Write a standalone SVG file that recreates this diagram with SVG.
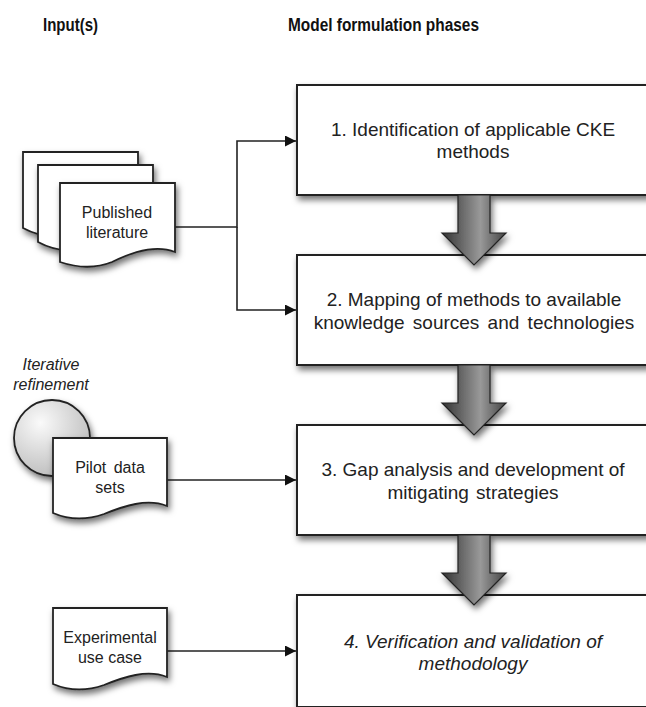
<svg xmlns="http://www.w3.org/2000/svg" width="646" height="707" viewBox="0 0 646 707">
<defs>
<style>
.box{fill:#fff;stroke:#222;stroke-width:2}
.doc{fill:#fff;stroke:#222;stroke-width:1.8}
.t{font-family:"Liberation Sans",Arial,sans-serif;font-size:19px;fill:#222;text-anchor:middle}
.s{font-family:"Liberation Sans",Arial,sans-serif;font-size:16px;fill:#222;text-anchor:middle}
.h{font-family:"Liberation Sans",Arial,sans-serif;font-size:18px;font-weight:bold;fill:#111}
.c{fill:none;stroke:#222;stroke-width:1.6}
.big{fill:url(#ag);stroke:#222;stroke-width:1.2}
</style>
<filter id="sh" x="-20%" y="-20%" width="140%" height="150%">
<feDropShadow dx="2" dy="4" stdDeviation="3" flood-color="#000" flood-opacity="0.55"/>
</filter>
<linearGradient id="ag" x1="0" y1="0" x2="1" y2="0">
<stop offset="0" stop-color="#333"/>
<stop offset="0.6" stop-color="#999"/>
<stop offset="1" stop-color="#444"/>
</linearGradient>
<radialGradient id="cg" cx="0.35" cy="0.3" r="0.8">
<stop offset="0" stop-color="#fafafa"/>
<stop offset="1" stop-color="#b8b8b8"/>
</radialGradient>
<marker id="ah" viewBox="0 0 10 10" refX="10" refY="5" markerWidth="11" markerHeight="11" markerUnits="userSpaceOnUse" orient="auto">
<path d="M0,0 L10,5 L0,10 Z" fill="#111"/>
</marker>
</defs>
<rect width="646" height="707" fill="#fff"/>
<text class="h" x="43" y="31" textLength="55" lengthAdjust="spacingAndGlyphs">Input(s)</text>
<text class="h" x="288" y="31" textLength="191" lengthAdjust="spacingAndGlyphs">Model formulation phases</text>

<g id="connectors">
<path class="c" d="M175,227 H237 V141 H296" marker-end="url(#ah)"/>
<path class="c" d="M237,227 V310 H296" marker-end="url(#ah)"/>
<path class="c" d="M167,480 H296" marker-end="url(#ah)"/>
<path class="c" d="M167,651 H296" marker-end="url(#ah)"/>
</g>

<g id="phase1">
<rect class="box" x="297" y="85" width="352" height="110" filter="url(#sh)"/>
<text class="t" x="473" y="136">1. Identification of applicable CKE</text>
<text class="t" x="473" y="158">methods</text>
</g>
<g id="phase2">
<rect class="box" x="297" y="255" width="352" height="110" filter="url(#sh)"/>
<text class="t" x="474" y="306">2. Mapping of methods to available</text>
<text class="t" x="474" y="329" word-spacing="3">knowledge sources and technologies</text>
</g>
<g id="phase3">
<rect class="box" x="297" y="425" width="352" height="110" filter="url(#sh)"/>
<text class="t" x="473" y="476">3. Gap analysis and development of</text>
<text class="t" x="473" y="499" word-spacing="2">mitigating strategies</text>
</g>
<g id="phase4">
<rect class="box" x="297" y="595" width="352" height="112" filter="url(#sh)"/>
<text class="t" x="473" y="648" font-style="italic">4. Verification and validation of</text>
<text class="t" x="473" y="670" font-style="italic">methodology</text>
</g>

<g id="flow-arrows">
<path class="big" filter="url(#sh)" d="M458,195 H490 V233 H506 L474,265 L442,233 H458 Z"/>
<path class="big" filter="url(#sh)" d="M458,365 H490 V403 H506 L474,435 L442,403 H458 Z"/>
<path class="big" filter="url(#sh)" d="M458,535 H490 V573 H506 L474,605 L442,573 H458 Z"/>
</g>

<g id="published-literature">
<path class="doc" filter="url(#sh)" d="M23,152 H138 V222 C118,214 95,222 75,232 C55,240 38,236 23,228 Z"/>
<path class="doc" filter="url(#sh)" d="M38,165 H153 V236 C133,228 110,236 90,246 C70,254 53,250 38,242 Z"/>
<path class="doc" filter="url(#sh)" d="M60,183 H175 V252 C155,244 132,252 112,262 C92,270 75,267 60,262 Z"/>
<text class="s" x="117" y="218">Published</text>
<text class="s" x="117" y="238">literature</text>
</g>

<g id="pilot-data">
<text class="s" x="51" y="370" font-style="italic">Iterative</text>
<text class="s" x="51" y="390" font-style="italic">refinement</text>
<circle cx="52" cy="438" r="38" fill="url(#cg)" stroke="#222" stroke-width="1.8" filter="url(#sh)"/>
<path class="doc" filter="url(#sh)" d="M53,438 H167 V506 C147,498 124,506 104,514 C84,521 67,519 53,513 Z"/>
<text class="s" x="110" y="473" word-spacing="3">Pilot data</text>
<text class="s" x="110" y="493">sets</text>
</g>

<g id="experimental-use-case">
<path class="doc" filter="url(#sh)" d="M53,608 H167 V677 C147,669 124,677 104,685 C84,692 67,690 53,684 Z"/>
<text class="s" x="110" y="643">Experimental</text>
<text class="s" x="110" y="663">use case</text>
</g>
</svg>
